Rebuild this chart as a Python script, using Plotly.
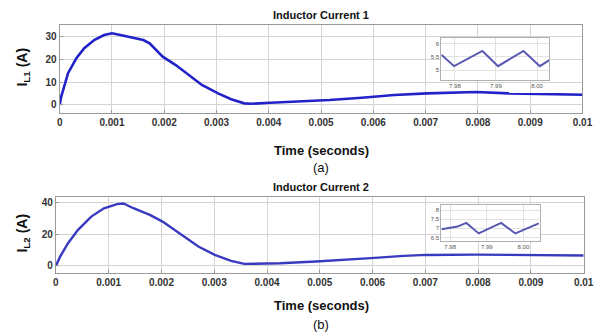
import plotly.graph_objects as go

# ---- Inductor current 1 (A) vs time (s) ----
t1 = [0, 0.00003, 0.00016, 0.00032, 0.00047, 0.00066, 0.00085, 0.001, 0.00116,
      0.00135, 0.0016, 0.00172, 0.00197, 0.00222, 0.00247, 0.00272, 0.00303,
      0.00328, 0.00353, 0.00366, 0.00403, 0.00453, 0.00516, 0.00578, 0.0064,
      0.00703, 0.00765, 0.00796, 0.00859, 0.00921, 0.01]
i1 = [0, 3.7, 14, 20.6, 25, 28.6, 30.8, 31.6, 30.8, 29.8, 28.6, 27.2, 21.3,
      17.6, 13.2, 8.8, 5.1, 2.5, 0.7, 0.5, 1.0, 1.5, 2.2, 3.2, 4.4, 5.1, 5.6,
      5.7, 5.1, 4.7, 4.5]

# ---- Inductor current 2 (A) vs time (s) ----
t2 = [0, 0.00008, 0.00023, 0.00042, 0.00067, 0.00091, 0.00116, 0.00128,
      0.00147, 0.00178, 0.00202, 0.00233, 0.0027, 0.00301, 0.00332, 0.00357,
      0.00375, 0.00425, 0.00493, 0.00548, 0.00604, 0.00659, 0.00702, 0.00795,
      0.00888, 0.00919, 0.01]
i2 = [0, 5.9, 14.4, 22.9, 31.3, 36.6, 39.2, 39.6, 36.6, 32.4, 28.1, 20.8,
      12.3, 7.0, 3.2, 1.3, 1.3, 1.7, 2.8, 3.8, 5.1, 6.4, 7.0, 7.2, 7.0, 6.6, 6.6]

# ---- Zoomed ripple (time in ms) ----
z1_t = [7.9767, 7.9798, 7.9867, 7.9905, 7.9967, 8.0007, 8.0030]
z1_i = [5.58, 5.15, 5.73, 5.15, 5.73, 5.15, 5.38]
z2_t = [7.9776, 7.9820, 7.9844, 7.9878, 7.9939, 7.9978, 8.0042]
z2_i = [6.95, 7.10, 7.30, 6.72, 7.30, 6.72, 7.28]

x_ticks = [0, 0.001, 0.002, 0.003, 0.004, 0.005, 0.006, 0.007, 0.008, 0.009, 0.01]
x_labels = ["0", "0.001", "0.002", "0.003", "0.004", "0.005", "0.006",
            "0.007", "0.008", "0.009", "0.01"]
y1_ticks = [0, 10, 20, 30]
y2_ticks = [0, 20, 40]
z_x_ticks = [7.98, 7.99, 8.0]
z_x_labels = ["7.98", "7.99", "8.00"]
z1_y_ticks = [5, 5.5, 6]
z2_y_ticks = [6.5, 7, 7.5, 8]

LINE = "#2222c8"
LINE2 = "#3a3ac0"
ZLINE = "#5858b0"
GRID = "#d4d4d4"
BOX = "#9a9a9a"
FONT = "Arial, Liberation Sans, sans-serif"
TICKF = dict(family=FONT, size=10, color="#333333")

fig = go.Figure()
fig.add_trace(go.Scatter(x=t1, y=i1, mode="lines", line=dict(color=LINE, width=2.6),
                         xaxis="x", yaxis="y", showlegend=False))
fig.add_trace(go.Scatter(x=t2, y=i2, mode="lines", line=dict(color=LINE2, width=2.4),
                         xaxis="x2", yaxis="y2", showlegend=False))
fig.add_trace(go.Scatter(x=z1_t, y=z1_i, mode="lines", line=dict(color=ZLINE, width=2),
                         xaxis="x3", yaxis="y3", showlegend=False))
fig.add_trace(go.Scatter(x=z2_t, y=z2_i, mode="lines", line=dict(color=ZLINE, width=2),
                         xaxis="x4", yaxis="y4", showlegend=False))

main_x = dict(range=[0, 0.01], tickvals=x_ticks, ticktext=[f"<b>{s}</b>" for s in x_labels],
              showgrid=True, gridcolor=GRID, gridwidth=1, zeroline=False,
              showline=True, linecolor=BOX, linewidth=1, mirror=True,
              ticks="inside", ticklen=3, tickcolor=BOX, tickfont=TICKF)
main_y = dict(showgrid=True, gridcolor=GRID, gridwidth=1, zeroline=False,
              showline=True, linecolor=BOX, linewidth=1, mirror=True,
              ticks="inside", ticklen=3, tickcolor=BOX, tickfont=TICKF)
inset_tf = dict(family=FONT, size=6, color="#555555")
inset_x = dict(tickvals=z_x_ticks, ticktext=z_x_labels, showgrid=True, gridcolor="#e2e2e2",
               zeroline=False, showline=True, linecolor="#b0b0b0", linewidth=1, mirror=True,
               ticks="", tickfont=inset_tf)
inset_y = dict(showgrid=True, gridcolor="#e2e2e2", zeroline=False, showline=True,
               linecolor="#b0b0b0", linewidth=1, mirror=True, ticks="", tickfont=inset_tf)

fig.update_layout(
    width=616, height=332, margin=dict(l=0, r=0, t=0, b=0),
    paper_bgcolor="white", plot_bgcolor="white",
    xaxis=dict(main_x, domain=[0.094, 0.961], anchor="y"),
    yaxis=dict(main_y, domain=[0.660, 0.925], range=[-3.5, 35.3], tickvals=y1_ticks,
               ticktext=[f"<b>{v}</b>" for v in y1_ticks], anchor="x"),
    xaxis2=dict(main_x, domain=[0.0877, 0.963], anchor="y2"),
    yaxis2=dict(main_y, domain=[0.178, 0.407], range=[-4.4, 43.8], tickvals=y2_ticks,
                ticktext=[f"<b>{v}</b>" for v in y2_ticks], anchor="x2"),
    xaxis3=dict(inset_x, domain=[0.727, 0.906], range=[7.9767, 8.0030], anchor="y3"),
    yaxis3=dict(inset_y, domain=[0.759, 0.886], range=[4.62, 6.23], tickvals=z1_y_ticks,
                ticktext=["5", "5.5", "6"], anchor="x3"),
    xaxis4=dict(inset_x, domain=[0.727, 0.891], range=[7.9776, 8.0046], anchor="y4"),
    yaxis4=dict(inset_y, domain=[0.274, 0.383], range=[6.3, 8.3], tickvals=z2_y_ticks,
                ticktext=["6.5", "7", "7.5", "8"], anchor="x4"),
)

# white panels behind the zoomed views
fig.add_shape(type="rect", xref="paper", yref="paper", x0=0.698, x1=0.917, y0=0.723, y1=0.901,
              fillcolor="white", line=dict(width=0), layer="below")
fig.add_shape(type="rect", xref="paper", yref="paper", x0=0.701, x1=0.896, y0=0.241, y1=0.398,
              fillcolor="white", line=dict(width=0), layer="below")

def note(text, x, y, size=11, angle=0, color="#111111"):
    fig.add_annotation(text=text, x=x, y=y, xref="paper", yref="paper", showarrow=False,
                       xanchor="center", yanchor="middle", textangle=angle,
                       font=dict(family=FONT, size=size, color=color))

note("<b>Inductor Current 1</b>", 325 / 616, 1 - 15 / 332, size=11)
note("<b>Time (seconds)</b>", 325 / 616, 1 - 150 / 332, size=13)
note("(a)", 325 / 616, 1 - 167 / 332, size=13)
note("<b>I<sub>L1</sub> (A)</b>", 20 / 616, 1 - 67 / 332, size=14, angle=-90)
note("<b>Inductor Current 2</b>", 325 / 616, 1 - 187 / 332, size=11)
note("<b>Time (seconds)</b>", 325 / 616, 1 - 305 / 332, size=13)
note("(b)", 325 / 616, 1 - 324 / 332, size=13)
note("<b>I<sub>L2</sub> (A)</b>", 20 / 616, 1 - 233 / 332, size=14, angle=-90)

fig.write_html("out.html")
